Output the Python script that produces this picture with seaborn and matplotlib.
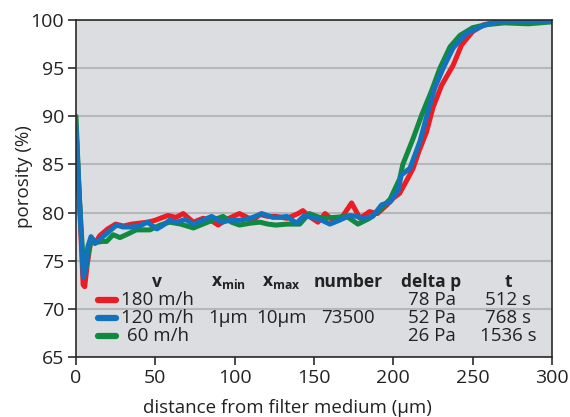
import numpy as np
import pandas as pd
import matplotlib
matplotlib.use('Agg')
import matplotlib.pyplot as plt
import seaborn as sns

# velocity labels and colours
velocities = ['180 m/h', '120 m/h', '60 m/h']
colors = {'180 m/h': '#ec1c24', '120 m/h': '#1272bd', '60 m/h': '#128941'}

# 180 m/h (red)
x_180 = [0, 2.5, 4.5, 5.5, 7, 9.5, 12, 15, 20, 25, 30, 35, 40, 45, 50, 53, 58, 63,
         67.6, 74, 80, 85, 89.6, 95, 103, 111.6, 116, 121, 126, 133, 140, 143, 147,
         152.5, 157, 162, 168, 173.7, 179, 185, 190, 196, 200, 204, 208, 212.5, 216,
         221, 225, 230.4, 237.7, 243, 250, 257, 265, 280, 300]
y_180 = [88.8, 80.0, 72.5, 72.3, 74.5, 77.3, 76.8, 77.6, 78.3, 78.8, 78.6, 78.8, 78.9,
         79.0, 79.2, 79.4, 79.7, 79.5, 79.9, 79.0, 79.4, 79.2, 78.7, 79.3, 79.9, 79.2,
         79.8, 79.6, 79.6, 79.4, 79.9, 80.2, 79.6, 79.0, 79.9, 79.2, 79.6, 81.0, 79.4,
         80.1, 79.9, 80.8, 81.5, 82.0, 83.2, 84.6, 86.3, 88.4, 90.9, 93.2, 95.3, 97.4,
         98.8, 99.5, 99.8, 99.9, 99.9]

# 120 m/h (blue)
x_120 = [0, 2, 4.6, 6, 7.5, 9.5, 12, 17, 22, 25.6, 29.7, 35, 40, 45, 51, 55, 59, 63.5,
         69, 74, 80, 85.5, 92, 97, 103, 109.6, 113, 117, 124, 128, 133, 139, 144, 151,
         155, 160, 166, 172.6, 177, 181, 187, 192.6, 198, 203, 205, 210.5, 216.8, 221,
         226, 231.4, 237.7, 246, 256.5, 265, 280, 300]
y_120 = [89.0, 82.0, 73.3, 74.0, 76.5, 77.5, 76.8, 77.5, 78.2, 78.7, 78.5, 78.5, 78.6,
         79.0, 78.3, 78.7, 79.2, 79.0, 79.3, 78.8, 79.2, 79.6, 79.0, 79.2, 79.2, 79.4,
         79.6, 79.9, 79.5, 79.5, 79.6, 78.9, 79.7, 79.4, 79.2, 78.8, 79.2, 79.7, 79.6,
         79.4, 79.6, 80.8, 81.1, 82.3, 83.9, 84.6, 87.4, 90.0, 92.9, 95.0, 97.1, 98.6,
         99.4, 99.8, 99.9, 99.9]

# 60 m/h (green)
x_60 = [0, 2, 4.8, 6.5, 8, 10, 13, 16.5, 19.3, 23.4, 27.7, 33, 38, 46.6, 53, 59, 66, 74,
        80, 86, 92.7, 98, 103, 110, 116, 121, 126, 133, 141, 147, 155, 163, 170.6,
        177.7, 185, 191, 198, 204, 206, 212.5, 217.8, 224, 229.4, 235.7, 242, 250, 258,
        270, 285, 300]
y_60 = [90.0, 82.0, 74.0, 74.3, 76.0, 77.3, 76.9, 77.0, 77.0, 77.7, 77.4, 77.8, 78.2,
        78.2, 78.7, 79.0, 78.8, 78.4, 78.8, 79.2, 79.6, 79.0, 78.7, 78.9, 79.0, 78.8,
        78.7, 78.8, 78.8, 79.9, 79.4, 79.5, 79.6, 78.8, 79.4, 80.2, 81.4, 83.5, 85.0,
        87.7, 90.1, 92.6, 95.0, 97.2, 98.4, 99.2, 99.5, 99.7, 99.6, 99.8]

# table columns
headers = ['v', r'$\mathbf{x}_{\mathbf{min}}$', r'$\mathbf{x}_{\mathbf{max}}$', 'number', 'delta p', 't']
x_min_txt = '1\u03bcm'
x_max_txt = '10\u03bcm'
number_txt = '73500'
delta_p = ['78 Pa', '52 Pa', '26 Pa']
t_vals = ['512 s', '768 s', '1536 s']

df = pd.concat([
    pd.DataFrame({'distance': x_180, 'porosity': y_180, 'v': '180 m/h'}),
    pd.DataFrame({'distance': x_60, 'porosity': y_60, 'v': '60 m/h'}),
    pd.DataFrame({'distance': x_120, 'porosity': y_120, 'v': '120 m/h'}),
], ignore_index=True)

sns.set_style('ticks')
plt.rcParams['font.family'] = ['Open Sans', 'DejaVu Sans']
plt.rcParams['mathtext.fontset'] = 'custom'
plt.rcParams['mathtext.rm'] = 'Open Sans'
plt.rcParams['mathtext.bf'] = 'Open Sans:bold'

fig = plt.figure(figsize=(5.7, 4.17), dpi=100)
ax = fig.add_axes([0.1333, 0.1439, 0.8351, 0.8082])
ax.set_facecolor('#dcdde0')

sns.lineplot(data=df, x='distance', y='porosity', hue='v',
             hue_order=['180 m/h', '60 m/h', '120 m/h'], palette=colors,
             estimator=None, sort=False, linewidth=3.6, legend=False, ax=ax)
for ln in ax.lines:
    ln.set_solid_joinstyle('round')
    ln.set_solid_capstyle('round')

ax.set_xlim(0, 300)
ax.set_ylim(65, 100)
ax.set_xticks(np.arange(0, 301, 50))
ax.set_yticks(np.arange(65, 101, 5))
ax.yaxis.grid(True, color='#b6b7ba', linewidth=1.5)
ax.set_axisbelow(True)
for s in ax.spines.values():
    s.set_color('#2b2b2b')
    s.set_linewidth(1.2)
ax.tick_params(axis='both', labelsize=14, colors='#2b2b2b', length=6, width=1.2,
               labelcolor='#222222', pad=2.5)
ax.set_xlabel('distance from filter medium (\u03bcm)', fontsize=13.5, color='#222222')
ax.set_ylabel('porosity (%)', fontsize=13.5, color='#222222')
ax.xaxis.set_label_coords(0.445, -0.124)
ax.yaxis.set_label_coords(-0.09, 0.534)

# table in the lower part of the plot
col_x = [0.1695, 0.32, 0.432, 0.571, 0.747, 0.9076]
row_y = [0.169, 0.116, 0.061]
for cx, h in zip(col_x, headers):
    ax.text(cx, 0.222, h, transform=ax.transAxes, ha='center', va='center',
            fontsize=12.5, fontweight='bold', color='#222222')
for i, v in enumerate(velocities):
    ax.plot([0.046, 0.084], [row_y[i], row_y[i]], transform=ax.transAxes,
            color=colors[v], linewidth=4.5, solid_capstyle='round')
    lx = 0.0945 if i < 2 else 0.107
    ax.text(lx, row_y[i], v, transform=ax.transAxes, ha='left', va='center',
            fontsize=13.5, color='#222222')
    ax.text(col_x[4], row_y[i], delta_p[i], transform=ax.transAxes, ha='center',
            va='center', fontsize=13.5, color='#222222')
    ax.text(col_x[5], row_y[i], t_vals[i], transform=ax.transAxes, ha='center',
            va='center', fontsize=13.5, color='#222222')
for cx, s in zip(col_x[1:4], [x_min_txt, x_max_txt, number_txt]):
    ax.text(cx, row_y[1], s, transform=ax.transAxes, ha='center', va='center',
            fontsize=13.5, color='#222222')

fig.savefig('out.png', dpi=100)
